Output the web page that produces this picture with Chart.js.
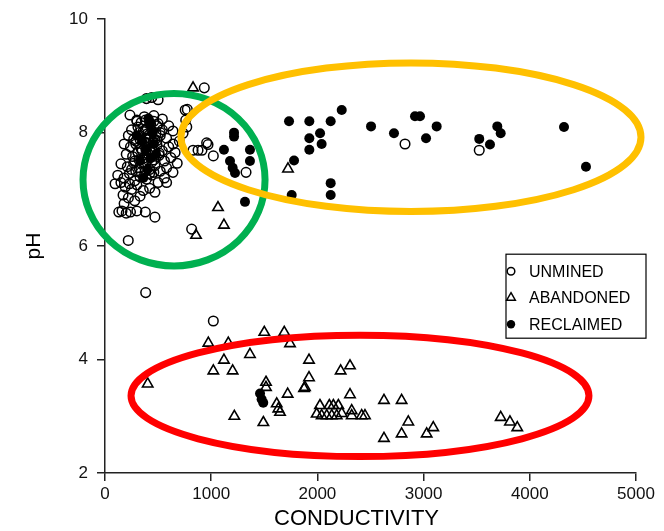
<!DOCTYPE html>
<html>
<head>
<meta charset="utf-8">
<script src="https://cdn.jsdelivr.net/npm/chart.js@4.4.1/dist/chart.umd.min.js"></script>
<style>
  html, body { margin: 0; padding: 0; background: #fff; }
  #wrap { width: 664px; height: 531px; }
</style>
</head>
<body>
<div id="wrap"><canvas id="chart" width="664" height="531"></canvas></div>
<script>
// --- Values (conductivity, pH) ---
const unminedCond = [
  390, 440, 500, 235, 300, 370, 460, 540, 755, 760, 770, 250, 310, 380, 430, 490, 540, 600, 640,
  220, 270, 330, 380, 420, 470, 520, 580, 640, 700, 735,
  180, 240, 290, 340, 390, 440, 490, 540, 600, 660,
  200, 260, 310, 360, 410, 460, 510, 560, 620, 680,
  150, 210, 270, 320, 370, 420, 470, 520, 580, 640,
  120, 180, 230, 280, 330, 390, 440, 500, 560,
  95, 150, 190, 250, 300, 360, 420, 470, 580,
  170, 220, 330, 280,
  180, 160, 130, 200, 240, 300, 380, 470,
  // dense core
  300, 340, 380, 420, 460, 500, 320, 360, 400, 440, 480, 520,
  290, 330, 370, 410, 450, 490, 310, 350, 390, 430, 470, 510,
  280, 320, 360, 400, 440, 250, 290, 340, 380, 420, 460, 230,
  // outliers
  829, 876, 913, 957, 1020, 935, 775, 970, 1328, 816, 219, 383, 1020, 2825, 3524
];
const unminedPH = [
  8.60, 8.62, 8.58, 8.31, 8.22, 8.28, 8.30, 8.24, 8.40, 8.22, 8.10, 8.05, 8.10, 8.05, 8.15, 8.12, 8.05, 8.12, 8.03,
  7.95, 7.88, 7.95, 7.90, 7.97, 7.88, 7.95, 7.90, 7.80, 7.85, 7.99,
  7.80, 7.75, 7.80, 7.72, 7.82, 7.70, 7.78, 7.68, 7.75, 7.65,
  7.62, 7.58, 7.65, 7.55, 7.62, 7.52, 7.60, 7.50, 7.56, 7.46,
  7.45, 7.40, 7.46, 7.38, 7.44, 7.35, 7.42, 7.32, 7.38, 7.30,
  7.25, 7.20, 7.28, 7.15, 7.22, 7.18, 7.25, 7.12, 7.20,
  7.10, 7.12, 7.04, 7.00, 7.08, 6.98, 7.02, 6.95, 7.12,
  6.90, 6.85, 6.88, 6.80,
  6.75, 6.62, 6.60, 6.58, 6.60, 6.62, 6.60, 6.51,
  8.20, 8.18, 8.22, 8.18, 8.20, 8.16, 8.00, 8.02, 7.98, 8.02, 7.98, 8.00,
  7.85, 7.88, 7.84, 7.88, 7.84, 7.86, 7.66, 7.68, 7.70, 7.66, 7.68, 7.64,
  7.50, 7.52, 7.48, 7.52, 7.48, 7.35, 7.32, 7.30, 7.32, 7.28, 7.30, 7.10,
  7.69, 7.69, 7.69, 7.82, 7.59, 8.79, 8.41, 7.79, 7.30, 6.30, 6.10, 5.18, 4.68, 7.80, 7.69
];

const abandonedCond = [
  829, 1064, 1120, 857, 1723,
  402, 973, 1161, 1500, 1688, 1742, 1365, 1120, 1020, 1202, 1921, 1921, 1874, 1720, 1516, 1516,
  2219, 2307, 1617, 1632, 1648, 1218, 1491, 2307, 1883,
  2024, 2112, 2150, 2197, 1993, 2040, 2088, 2135, 2182, 2229, 2323, 2323, 2417, 2448,
  2627, 2793, 2856, 2793, 2627, 3029, 3091, 3726, 3813, 3882
];
const abandonedPH = [
  8.79, 6.68, 6.37, 6.19, 7.36,
  3.57, 4.29, 4.29, 4.48, 4.48, 4.28, 4.09, 3.99, 3.80, 3.80, 3.99, 3.68, 3.49, 3.39, 3.60, 3.51,
  3.80, 3.89, 3.22, 3.13, 3.07, 3.00, 2.89, 3.38, 3.51,
  3.19, 3.19, 3.19, 3.19, 3.04, 3.01, 3.01, 3.01, 3.01, 3.05, 3.10, 3.01, 3.01, 3.01,
  3.28, 3.28, 2.90, 2.69, 2.61, 2.69, 2.80, 2.98, 2.90, 2.80
];

const reclaimedCond = [
  2229, 1733, 1924, 2125, 2919, 2966, 2505, 3123, 2721, 3023, 2025, 1924, 2040, 1924,
  1215, 1215, 1120, 1365, 1365, 1177, 1202, 1224, 1780, 2125, 2125, 1758, 1318,
  3694, 3726, 3524, 3625, 4322, 4529,
  1460, 1475, 1490,
  420, 450, 380, 430, 330, 400, 350, 460, 480, 300, 360, 410
];
const reclaimedPH = [
  8.40, 8.20, 8.20, 8.20, 8.29, 8.29, 8.11, 8.11, 7.99, 7.90, 7.99, 7.90, 7.80, 7.70,
  8.00, 7.93, 7.70, 7.70, 7.50, 7.50, 7.38, 7.29, 7.51, 7.11, 6.90, 6.90, 6.78,
  8.11, 7.99, 7.89, 7.79, 8.10, 7.40,
  3.40, 3.30, 3.24,
  8.15, 8.00, 7.70, 7.55, 7.50, 7.35, 7.85, 7.80, 7.62, 7.95, 7.20, 8.25
];

const seriesNames = ['UNMINED', 'ABANDONED', 'RECLAIMED'];
const xTicks = [0, 1000, 2000, 3000, 4000, 5000];
const yTicks = [2, 4, 6, 8, 10];

// highlight ellipses, in data units (centre and half-axes)
const ellipseCond = [650, 2881, 2401];
const ellipsePH = [7.17, 7.92, 3.36];
const ellipseHalfCond = [857, 2166, 2156];
const ellipseHalfPH = [1.52, 1.31, 1.07];
const ellipseColors = ['#00b050', '#ffc000', '#ff0000'];

function toPoints(xs, ys) {
  return xs.map((v, i) => ({ x: v, y: ys[i] }));
}

// --- Plugins ---
const ellipsePlugin = {
  id: 'ellipses',
  afterDatasetsDraw(chart) {
    const { ctx, scales: { x, y } } = chart;
    ctx.save();
    ellipseCond.forEach((c, i) => {
      const cx = x.getPixelForValue(c);
      const cy = y.getPixelForValue(ellipsePH[i]);
      const rx = Math.abs(x.getPixelForValue(c + ellipseHalfCond[i]) - cx);
      const ry = Math.abs(y.getPixelForValue(ellipsePH[i] + ellipseHalfPH[i]) - cy);
      ctx.beginPath();
      ctx.ellipse(cx, cy, rx, ry, 0, 0, Math.PI * 2);
      ctx.lineWidth = 7;
      ctx.strokeStyle = ellipseColors[i];
      ctx.stroke();
    });
    ctx.restore();
  }
};

const boxLegendPlugin = {
  id: 'boxLegend',
  afterDraw(chart) {
    const { ctx, chartArea } = chart;
    const left = chartArea.right - 130, top = chartArea.top + 235;
    const w = 140, h = 84;
    ctx.save();
    ctx.fillStyle = '#fff';
    ctx.fillRect(left, top, w, h);
    ctx.lineWidth = 1.2;
    ctx.strokeStyle = '#000';
    ctx.strokeRect(left, top, w, h);
    ctx.font = '16px "Liberation Sans", Arial, sans-serif';
    ctx.textBaseline = 'middle';
    ctx.fillStyle = '#000';
    seriesNames.forEach((name, i) => {
      const my = top + 17 + i * 26.5;
      const mx = left + 5;
      ctx.lineWidth = 1.5;
      ctx.beginPath();
      if (i === 0) {
        ctx.arc(mx, my, 3.8, 0, Math.PI * 2);
        ctx.stroke();
      } else if (i === 1) {
        const r = 5;
        ctx.moveTo(mx, my - r);
        ctx.lineTo(mx + r * 0.866, my + r * 0.5);
        ctx.lineTo(mx - r * 0.866, my + r * 0.5);
        ctx.closePath();
        ctx.stroke();
      } else {
        ctx.arc(mx, my, 4.2, 0, Math.PI * 2);
        ctx.fill();
      }
      ctx.fillText(name, left + 23, my + 1);
    });
    ctx.restore();
  }
};

const xTitlePlugin = {
  id: 'xTitle',
  afterDraw(chart) {
    const { ctx, chartArea } = chart;
    ctx.save();
    ctx.font = '22px "Liberation Sans", Arial, sans-serif';
    ctx.fillStyle = '#000';
    ctx.textAlign = 'center';
    ctx.textBaseline = 'middle';
    ctx.fillText('CONDUCTIVITY', (chartArea.left + chartArea.right) / 2 - 14, 519);
    ctx.restore();
  }
};

// --- Chart ---
const tickFont = { family: '"Liberation Sans", Arial, sans-serif', size: 17 };

new Chart(document.getElementById('chart'), {
  type: 'scatter',
  data: {
    datasets: [
      {
        label: seriesNames[0],
        data: toPoints(unminedCond, unminedPH),
        pointStyle: 'circle',
        pointRadius: 4.8,
        pointBackgroundColor: 'rgba(255,255,255,0)',
        pointBorderColor: '#000',
        pointBorderWidth: 1.5
      },
      {
        label: seriesNames[1],
        data: toPoints(abandonedCond, abandonedPH),
        pointStyle: 'triangle',
        pointRadius: 6,
        pointBackgroundColor: 'rgba(255,255,255,0)',
        pointBorderColor: '#000',
        pointBorderWidth: 1.6
      },
      {
        label: seriesNames[2],
        data: toPoints(reclaimedCond, reclaimedPH),
        pointStyle: 'circle',
        pointRadius: 5,
        pointBackgroundColor: '#000',
        pointBorderColor: '#000',
        pointBorderWidth: 0
      }
    ]
  },
  options: {
    responsive: false,
    animation: false,
    devicePixelRatio: 1,
    layout: { padding: { left: 0, right: 28, top: 15, bottom: 0 } },
    plugins: { legend: { display: false }, tooltip: { enabled: false } },
    scales: {
      x: {
        type: 'linear',
        min: xTicks[0],
        max: xTicks[xTicks.length - 1],
        afterBuildTicks: s => { s.ticks = xTicks.map(v => ({ value: v })); },
        afterFit: s => { s.height = 58; },
        ticks: { font: tickFont, color: '#111', padding: 3, maxRotation: 0, callback: v => String(v) },
        grid: { drawOnChartArea: false, drawTicks: true, tickLength: 8, color: '#222', lineWidth: 1.5 },
        border: { color: '#222', width: 1.5 }
      },
      y: {
        type: 'linear',
        min: yTicks[0],
        max: yTicks[yTicks.length - 1],
        afterBuildTicks: s => { s.ticks = yTicks.map(v => ({ value: v })); },
        afterFit: s => { s.width = 105; },
        ticks: { font: tickFont, color: '#111', padding: 9, callback: v => String(v) },
        grid: { drawOnChartArea: false, drawTicks: true, tickLength: 8, color: '#222', lineWidth: 1.5 },
        border: { color: '#222', width: 1.5 },
        title: {
          display: true,
          text: 'pH',
          color: '#000',
          font: { family: '"Liberation Sans", Arial, sans-serif', size: 21 },
          padding: { top: 22, bottom: 0 }
        }
      }
    }
  },
  plugins: [ellipsePlugin, boxLegendPlugin, xTitlePlugin]
});
</script>
</body>
</html>
